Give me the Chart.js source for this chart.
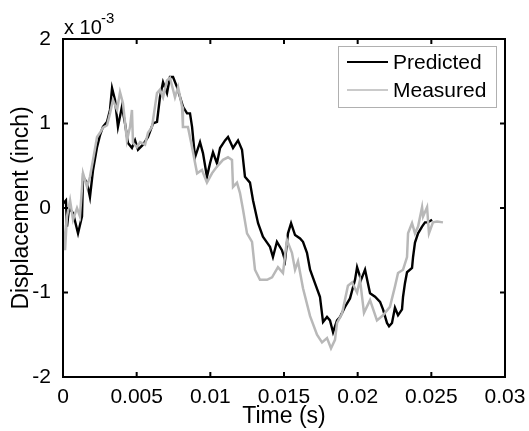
<!DOCTYPE html>
<html>
<head>
<meta charset="utf-8">
<script src="https://cdn.jsdelivr.net/npm/chart.js@4.4.1/dist/chart.umd.min.js"></script>
<style>
  html, body { margin: 0; padding: 0; background: #fff; }
  #chart { display: block; }
</style>
</head>
<body>
<canvas id="chart" width="529" height="431"></canvas>
<script>
// tiempos en ms, desplazamiento en unidades de 1e-3 inch
const predictedTime = [0.00, 0.20, 0.27, 0.41, 0.68, 1.02, 1.29, 1.36, 1.63, 1.83, 2.04, 2.31, 2.51, 2.71, 2.99, 3.19, 3.33, 3.53, 3.73, 4.00,
  4.21, 4.41, 4.68, 4.89, 5.09, 5.43, 5.77, 6.11, 6.38, 6.58, 6.79, 7.06, 7.26, 7.47, 7.74, 8.14, 8.42, 8.62, 8.76, 8.96,
  9.30, 9.50, 9.77, 9.98, 10.18, 10.45, 10.66, 11.00, 11.20, 11.54, 11.88, 12.15, 12.35, 12.69, 12.90, 13.24, 13.57, 13.85, 14.05, 14.25,
  14.52, 14.86, 15.07, 15.27, 15.48, 15.75, 16.09, 16.29, 16.56, 16.77, 17.10, 17.44, 17.65, 17.92, 18.12, 18.33, 18.60, 18.80, 19.14, 19.48,
  19.82, 19.96, 20.23, 20.50, 20.84, 21.18, 21.52, 21.72, 21.99, 22.13, 22.33, 22.53, 22.74, 23.01, 23.08, 23.21, 23.35, 23.69, 23.76, 23.89,
  24.10, 24.37, 24.57, 24.77, 25.05];
const predicted = [0.05, 0.09, -0.22, 0.00, -0.06, -0.30, -0.10, 0.37, 0.30, 0.13, 0.45, 0.72, 0.86, 0.96, 1.02, 1.16, 1.42, 1.28, 0.96, 1.20,
  1.00, 0.77, 0.71, 0.80, 0.69, 0.75, 0.84, 1.00, 1.02, 1.31, 1.49, 1.36, 1.55, 1.55, 1.43, 1.20, 1.12, 1.12, 0.96, 0.60,
  0.78, 0.65, 0.37, 0.53, 0.66, 0.53, 0.71, 0.80, 0.84, 0.71, 0.80, 0.69, 0.37, 0.30, 0.09, -0.18, -0.34, -0.41, -0.46, -0.58,
  -0.40, -0.50, -0.62, -0.30, -0.18, -0.32, -0.36, -0.40, -0.53, -0.73, -0.89, -1.05, -1.35, -1.29, -1.33, -1.47, -1.33, -1.29, -1.17, -1.07,
  -0.85, -0.70, -0.85, -0.73, -1.01, -1.05, -1.11, -1.20, -1.36, -1.40, -1.36, -1.18, -1.27, -1.20, -1.05, -0.89, -0.76, -0.71, -0.58, -0.41,
  -0.30, -0.22, -0.17, -0.17, -0.14];

const measuredTime = [0.00, 0.14, 0.27, 0.48, 0.68, 0.95, 1.15, 1.36, 1.63, 1.83, 2.04, 2.31, 2.51, 2.71, 2.99, 3.19, 3.39, 3.67, 3.87, 4.07,
  4.34, 4.55, 4.68, 4.75, 5.02, 5.23, 5.57, 5.77, 6.04, 6.38, 6.58, 6.79, 7.06, 7.26, 7.47, 7.60, 7.81, 8.08, 8.14, 8.48,
  8.76, 9.10, 9.43, 9.77, 10.11, 10.45, 10.86, 11.20, 11.47, 11.54, 11.81, 12.01, 12.22, 12.49, 12.83, 13.03, 13.37, 13.85, 14.19, 14.59,
  14.93, 15.20, 15.54, 15.75, 15.95, 16.29, 16.77, 17.24, 17.58, 17.92, 18.19, 18.46, 18.60, 18.94, 19.34, 19.62, 19.96, 20.16, 20.43, 20.84,
  21.31, 21.72, 22.19, 22.53, 22.74, 23.08, 23.35, 23.42, 23.69, 23.89, 24.10, 24.37, 24.44, 24.71, 24.84, 25.11, 25.39, 25.79];
const measured = [-0.20, -0.50, -0.10, 0.09, -0.14, 0.00, -0.10, 0.41, 0.25, 0.37, 0.57, 0.84, 0.89, 0.95, 0.98, 1.12, 1.28, 1.16, 1.37, 1.24,
  0.80, 0.96, 1.16, 0.77, 0.72, 0.78, 0.75, 0.89, 0.96, 1.36, 1.40, 1.31, 1.51, 1.54, 1.40, 1.31, 1.43, 1.20, 0.96, 0.96,
  0.72, 0.41, 0.45, 0.30, 0.41, 0.49, 0.57, 0.60, 0.57, 0.25, 0.30, 0.18, -0.02, -0.30, -0.40, -0.73, -0.85, -0.85, -0.82, -0.70,
  -0.77, -0.38, -0.53, -0.73, -0.63, -0.95, -1.28, -1.50, -1.59, -1.54, -1.66, -1.56, -1.36, -1.25, -0.92, -0.88, -1.00, -0.85, -1.24, -1.09,
  -1.33, -1.27, -1.17, -0.93, -0.77, -0.73, -0.58, -0.30, -0.18, -0.30, -0.22, 0.01, -0.10, 0.01, -0.30, -0.17, -0.16, -0.17];

const xTickLabels = ['0', '0.005', '0.01', '0.015', '0.02', '0.025', '0.03'];
const yTickLabels = ['-2', '-1', '0', '1', '2'];

function toPoints(times, values) {
    return times.map((t, i) => ({ x: t / 1000, y: values[i] }));
}

const FONT = 'Liberation Sans, Arial, Helvetica, sans-serif';

// caja estilo MATLAB, marcas hacia dentro, leyenda y exponente
const matlabBox = {
    id: 'matlabBox',
    afterDraw(chart) {
        const { ctx, chartArea: a } = chart;
        const xs = chart.scales.x, ys = chart.scales.y;
        ctx.save();
        ctx.strokeStyle = '#000';
        ctx.lineWidth = 2;
        ctx.strokeRect(a.left, a.top, a.right - a.left, a.bottom - a.top);
        ctx.beginPath();
        xs.ticks.forEach(t => {
            const px = xs.getPixelForValue(t.value);
            ctx.moveTo(px, a.bottom); ctx.lineTo(px, a.bottom - 5);
            ctx.moveTo(px, a.top); ctx.lineTo(px, a.top + 5);
        });
        ys.ticks.forEach(t => {
            const py = ys.getPixelForValue(t.value);
            ctx.moveTo(a.left, py); ctx.lineTo(a.left + 5, py);
            ctx.moveTo(a.right, py); ctx.lineTo(a.right - 5, py);
        });
        ctx.stroke();

        // x 10^-3
        ctx.fillStyle = '#000';
        ctx.textBaseline = 'alphabetic';
        ctx.textAlign = 'left';
        ctx.font = '20px ' + FONT;
        ctx.fillText('x 10', 64, 34);
        ctx.font = '15px ' + FONT;
        ctx.fillText('-3', 101, 23);

        // leyenda
        const lx = 338, ly = 46, lw = 158, lh = 61;
        ctx.fillStyle = '#fff';
        ctx.fillRect(lx, ly, lw, lh);
        ctx.strokeStyle = '#b0b0b0';
        ctx.lineWidth = 1;
        ctx.strokeRect(lx + 0.5, ly + 0.5, lw, lh);
        chart.data.datasets.forEach((ds, i) => {
            const yy = ly + 16 + i * 28;
            ctx.strokeStyle = ds.borderColor;
            ctx.lineWidth = i === 0 ? 2 : 1.5;
            ctx.beginPath();
            ctx.moveTo(lx + 9, yy); ctx.lineTo(lx + 50, yy);
            ctx.stroke();
            ctx.fillStyle = '#000';
            ctx.font = '21px ' + FONT;
            ctx.textBaseline = 'middle';
            ctx.fillText(ds.label, lx + 55, yy + 1);
        });
        ctx.restore();
    }
};

new Chart(document.getElementById('chart'), {
    type: 'line',
    data: {
        datasets: [{
            label: 'Predicted',
            data: toPoints(predictedTime, predicted),
            borderColor: '#000000',
            borderWidth: 2.4,
            pointRadius: 0,
            tension: 0,
            order: 1
        }, {
            label: 'Measured',
            data: toPoints(measuredTime, measured),
            borderColor: '#b8b8b8',
            borderWidth: 2.5,
            pointRadius: 0,
            tension: 0,
            order: 0
        }]
    },
    options: {
        responsive: false,
        animation: false,
        layout: { padding: { left: 0, top: 39, right: 24, bottom: 0 } },
        plugins: {
            legend: { display: false },
            tooltip: { enabled: false }
        },
        scales: {
            x: {
                type: 'linear',
                min: 0,
                max: 0.03,
                afterFit: s => { s.height = 54; },
                grid: { display: false },
                border: { display: false },
                ticks: {
                    stepSize: 0.005,
                    padding: 0,
                    maxRotation: 0,
                    color: '#000',
                    font: { family: FONT, size: 21 },
                    callback: (v, i) => xTickLabels[i]
                },
                title: {
                    display: true,
                    text: 'Time (s)',
                    color: '#000',
                    font: { family: FONT, size: 23 },
                    padding: { top: 0, bottom: 1 }
                }
            },
            y: {
                min: -2,
                max: 2,
                afterFit: s => { s.width = 63; },
                grid: { display: false },
                border: { display: false },
                ticks: {
                    stepSize: 1,
                    padding: 4,
                    color: '#000',
                    font: { family: FONT, size: 21 },
                    callback: (v, i) => yTickLabels[i]
                },
                title: {
                    display: true,
                    text: 'Displacement (inch)',
                    color: '#000',
                    font: { family: FONT, size: 23 },
                    padding: { top: 8, bottom: 0 }
                }
            }
        }
    },
    plugins: [matlabBox]
});
</script>
</body>
</html>
